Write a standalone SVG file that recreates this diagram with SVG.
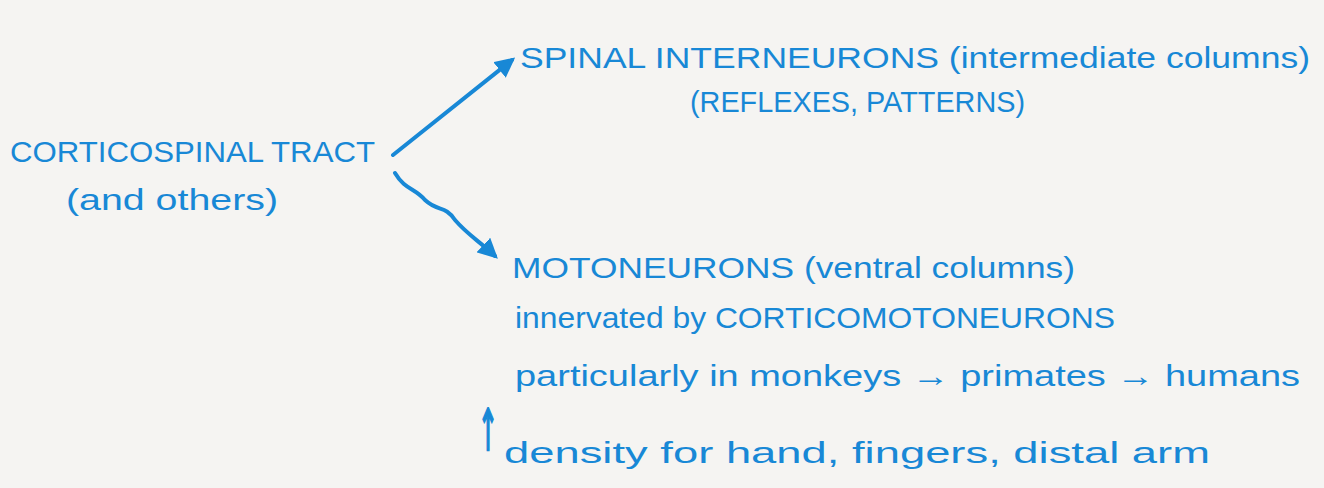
<svg xmlns="http://www.w3.org/2000/svg" width="1324" height="488" viewBox="0 0 1324 488">
<style>
.t{font-family:"Liberation Sans",Arial,sans-serif;fill:#1888d6;font-size:30px}
.c{stroke:#1888d6;stroke-width:4;fill:none;stroke-linecap:round;stroke-linejoin:round}
.up{font-family:"DejaVu Sans",sans-serif;fill:#1888d6;stroke:#1888d6;stroke-width:1.2;font-size:30px}
</style>
<defs>
<marker id="ah" viewBox="0 0 10 10" refX="8" refY="5" markerWidth="5" markerHeight="5" orient="auto">
<path d="M0,0 L10,5 L0,10 z" fill="#1888d6"/>
</marker>
</defs>
<rect width="1324" height="488" fill="#f5f4f2"/>
<g id="connectors">
<path class="c" d="M393,155 L512,60" marker-end="url(#ah)"/>
<path class="c" d="M395,173 C405,190 415,188 425,200 C438,212 445,205 455,220 C468,235 478,240 495,256" marker-end="url(#ah)"/>
</g>
<g id="node-corticospinal">
<text class="t" x="10" y="162" textLength="365" lengthAdjust="spacingAndGlyphs">CORTICOSPINAL TRACT</text>
<text class="t" x="66" y="210" textLength="212" lengthAdjust="spacingAndGlyphs" font-size="34">(and others)</text>
</g>
<g id="node-interneurons">
<text class="t" x="520" y="68" textLength="790" lengthAdjust="spacingAndGlyphs" font-size="34">SPINAL INTERNEURONS (intermediate columns)</text>
<text class="t" x="690" y="112" textLength="335" lengthAdjust="spacingAndGlyphs" font-size="34">(REFLEXES, PATTERNS)</text>
</g>
<g id="node-motoneurons">
<text class="t" x="512" y="278" textLength="563" lengthAdjust="spacingAndGlyphs" font-size="34">MOTONEURONS (ventral columns)</text>
<text class="t" x="515" y="328" textLength="600" lengthAdjust="spacingAndGlyphs">innervated by CORTICOMOTONEURONS</text>
<text class="t" x="515" y="386" textLength="785" lengthAdjust="spacingAndGlyphs">particularly in monkeys → primates → humans</text>
<text class="up" transform="translate(478,450) scale(0.8,1.9)">↑</text>
<text class="t" x="504" y="463" textLength="706" lengthAdjust="spacingAndGlyphs" font-size="34">density for hand, fingers, distal arm</text>
</g>
</svg>
